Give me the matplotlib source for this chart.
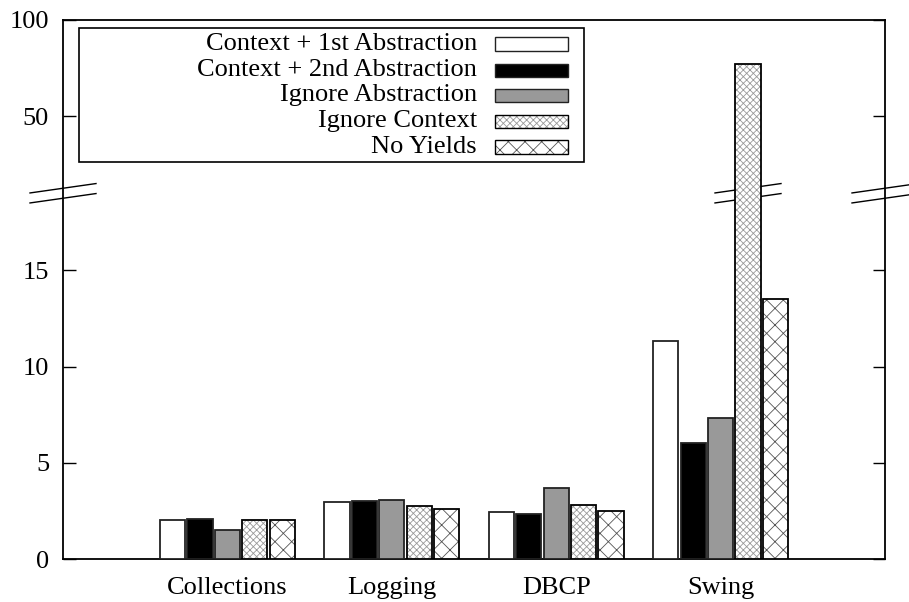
import numpy as np
import matplotlib
matplotlib.use("Agg")
import matplotlib.pyplot as plt
from matplotlib.patches import Rectangle
from matplotlib.lines import Line2D
from matplotlib.transforms import ScaledTranslation

plt.rcParams['font.family'] = ['Liberation Serif', 'DejaVu Serif']
plt.rcParams['font.size'] = 19
plt.rcParams['hatch.linewidth'] = 0.6

# ---- data -------------------------------------------------------------
benchmarks = ["Collections", "Logging", "DBCP", "Swing"]
series_names = ["Context + 1st Abstraction", "Context + 2nd Abstraction",
                "Ignore Abstraction", "Ignore Context", "No Yields"]
ctx_first = [2.04, 2.95, 2.44, 11.35]
ctx_second = [2.06, 3.02, 2.34, 6.02]
ignore_abstraction = [1.53, 3.05, 3.71, 7.32]
ignore_context = [2.03, 2.74, 2.79, 77.0]
no_yields = [2.03, 2.58, 2.50, 13.5]
y_ticks = [0, 5, 10, 15, 50, 100]

series = [ctx_first, ctx_second, ignore_abstraction, ignore_context, no_yields]

# ---- styles -----------------------------------------------------------
styles = [
    dict(face="white", hatch=None, hcolor=None),
    dict(face="black", hatch=None, hcolor=None),
    dict(face="#999999", hatch=None, hcolor=None),
    dict(face="white", hatch="xxxxx", hcolor="#999999"),
    dict(face="white", hatch="xx", hcolor="#555555"),
]

# broken axis: 0..20 full scale, 20..100 compressed tenfold
BREAK = 20.0
SQUEEZE = 0.1


def forward(y):
    y = np.asarray(y, dtype=float)
    return np.where(y <= BREAK, y, BREAK + (y - BREAK) * SQUEEZE)


def inverse(t):
    t = np.asarray(t, dtype=float)
    return np.where(t <= BREAK, t, BREAK + (t - BREAK) / SQUEEZE)


fig = plt.figure(figsize=(9.09, 6.02), dpi=100)
ax = fig.add_axes([63 / 909, 43 / 602, 822 / 909, 539 / 602])
ax.set_yscale('function', functions=(forward, inverse))
ax.set_ylim(0, 100)
ax.set_xlim(-1, 4)

x = np.arange(len(benchmarks))
n = len(series)
pitch = 1.0 / (n + 1)
width = pitch * 0.92

for i, (vals, st) in enumerate(zip(series, styles)):
    pos = x + (i - (n - 1) / 2) * pitch
    if st["hatch"]:
        ax.bar(pos, vals, width, color=st["face"], edgecolor=st["hcolor"],
               hatch=st["hatch"], linewidth=0, zorder=3)
        ax.bar(pos, vals, width, facecolor="none", edgecolor="black",
               linewidth=1.3, zorder=4)
    else:
        ax.bar(pos, vals, width, color=st["face"], edgecolor="#222222",
               linewidth=1.3, zorder=3)

ax.set_yticks(y_ticks)
ax.set_yticklabels([str(t) for t in y_ticks])
ax.set_xticks(x)
ax.set_xticklabels(benchmarks)
ax.tick_params(axis='y', direction='in', length=9, width=1.0, pad=10,
               right=True)
ax.tick_params(axis='x', length=0, pad=13)
ax.yaxis.set_minor_locator(matplotlib.ticker.NullLocator())
for s in ax.spines.values():
    s.set_linewidth(1.3)

# break marks on both spines and across the tall bar
def break_mark(xc, yc, zorder):
    tr = fig.dpi_scale_trans + ScaledTranslation(xc, yc, ax.transData)
    for dy in (0.0, -0.10):
        ax.add_line(Line2D([-0.33, 0.33], [0.003 + dy, 0.097 + dy],
                           transform=tr, color="black", lw=1.0,
                           clip_on=False, zorder=zorder))

yb = 19.0
break_mark(-1, yb, 5)
break_mark(4, yb, 5)
break_mark(x[3] + (3 - (n - 1) / 2) * pitch, yb, 2)

# key box
ax_w, ax_h = 822.0, 539.0
def ax_frac(px, py):
    return (px - 63) / ax_w, (559 - py) / ax_h

x0, y0 = ax_frac(79, 162)
x1, y1 = ax_frac(584, 28)
ax.add_patch(Rectangle((x0, y0), x1 - x0, y1 - y0, transform=ax.transAxes,
                       facecolor="white", edgecolor="black", lw=1.2,
                       zorder=6))
row_y = [44, 70, 95, 121, 147]
for name, st, ry in zip(series_names, styles, row_y):
    tx, ty = ax_frac(477, ry)
    ax.text(tx, ty, name, transform=ax.transAxes, ha="right", va="center",
            zorder=7)
    sx0, sy0 = ax_frac(495, ry + 6.5)
    sx1, sy1 = ax_frac(568, ry - 6.5)
    if st["hatch"]:
        ax.add_patch(Rectangle((sx0, sy0), sx1 - sx0, sy1 - sy0,
                               transform=ax.transAxes, facecolor=st["face"],
                               edgecolor=st["hcolor"], hatch=st["hatch"],
                               lw=0, zorder=7))
        ax.add_patch(Rectangle((sx0, sy0), sx1 - sx0, sy1 - sy0,
                               transform=ax.transAxes, facecolor="none",
                               edgecolor="black", lw=1.0, zorder=8))
    else:
        ax.add_patch(Rectangle((sx0, sy0), sx1 - sx0, sy1 - sy0,
                               transform=ax.transAxes, facecolor=st["face"],
                               edgecolor="#222222", lw=1.0, zorder=7))

fig.savefig("out.png", dpi=100)
